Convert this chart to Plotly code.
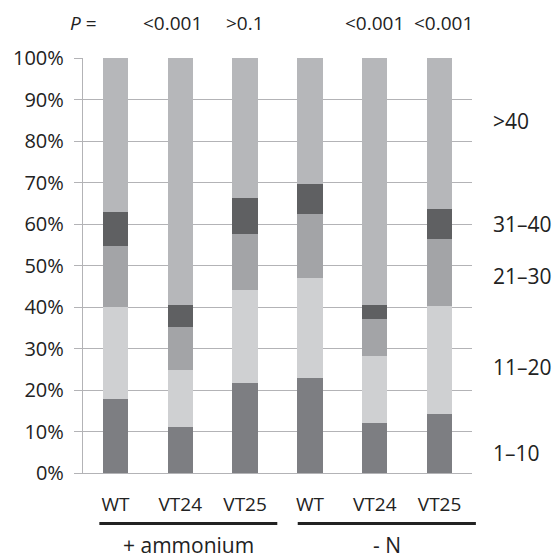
import plotly.graph_objects as go

categories = ["WT", "VT24", "VT25", "WT", "VT24", "VT25"]
bins = ["1–10", "11–20", "21–30", "31–40", ">40"]
v_1_10 = [17.9, 11.0, 21.8, 22.9, 12.1, 14.3]
v_11_20 = [22.2, 13.8, 22.3, 24.1, 16.0, 25.9]
v_21_30 = [14.5, 10.4, 13.4, 15.3, 8.9, 16.1]
v_31_40 = [8.4, 5.2, 8.7, 7.4, 3.6, 7.2]
v_gt40 = [37.0, 59.6, 33.8, 30.3, 59.4, 36.5]
p_values = ["", "<0.001", ">0.1", "", "<0.001", "<0.001"]
groups = ["+ ammonium", "- N"]
bin_label_y = [4.8, 25.5, 47.5, 60, 84.8]
y_ticks = list(range(0, 101, 10))
y_tick_text = [f"{v}%" for v in y_ticks]

series = [v_1_10, v_11_20, v_21_30, v_31_40, v_gt40]
colors = ["#7d7e82", "#cfd0d2", "#a3a4a7", "#5f6062", "#b6b7ba"]

FONT = "Open Sans"
TXT = "#222222"
GRID = "#b3b3b6"

x = list(range(len(categories)))
fig = go.Figure()
for name, vals, col in zip(bins, series, colors):
    fig.add_trace(go.Bar(x=x, y=vals, name=name, marker=dict(color=col, line=dict(width=0))))

fig.update_layout(
    barmode="stack",
    bargap=0.61,
    width=554, height=553,
    margin=dict(l=83, r=82, t=58, b=80),
    paper_bgcolor="white", plot_bgcolor="white",
    showlegend=False,
    font=dict(family=FONT, size=19, color=TXT),
)
fig.update_yaxes(
    range=[0, 100], tickvals=y_ticks, ticktext=y_tick_text,
    tickfont=dict(size=20),
    showgrid=True, gridcolor=GRID, gridwidth=1.3,
    zeroline=False, showline=True, linecolor=GRID, linewidth=1.3,
    ticks="outside", ticklen=8, tickcolor=GRID, tickwidth=1.3,
    ticklabelstandoff=6,
)
fig.update_xaxes(
    range=[-0.5, 5.5], tickvals=x, ticktext=categories,
    showgrid=False, zeroline=False, showline=True, linecolor=GRID, linewidth=1.3,
    ticks="", ticklabelstandoff=14,
)

# P values
p_shift = [0, -8, 0, 0, 0, 4]
for i, (pv, sh) in enumerate(zip(p_values, p_shift)):
    if pv:
        fig.add_annotation(x=i, xref="x", y=1.084, yref="paper", text=pv, showarrow=False,
                           xshift=sh, xanchor="center", yanchor="middle", font=dict(size=19))
fig.add_annotation(x=0.0, xref="paper", y=1.084, yref="paper", text="<i>P</i> =", showarrow=False,
                   xanchor="center", yanchor="middle", font=dict(size=19))

# bin labels on the right
for lbl, yy in zip(bins, bin_label_y):
    fig.add_annotation(x=1.05, xref="paper", y=yy, yref="y", text=lbl, showarrow=False,
                       xanchor="left", yanchor="middle", font=dict(size=21))

# group underlines and labels
for g, (x0, x1) in zip(groups, [(0.042, 0.4995), (0.552, 1.010)]):
    fig.add_shape(type="line", xref="paper", yref="paper", x0=x0, x1=x1, y0=-0.1217, y1=-0.1217,
                  line=dict(color="#222222", width=3))
    fig.add_annotation(x=(x0 + x1) / 2, xref="paper", y=-0.173, yref="paper", text=g, showarrow=False,
                       xanchor="center", yanchor="middle", font=dict(size=21))

fig.write_html("out.html", config={"displayModeBar": False},
               post_script="document.body.style.margin='0';")
